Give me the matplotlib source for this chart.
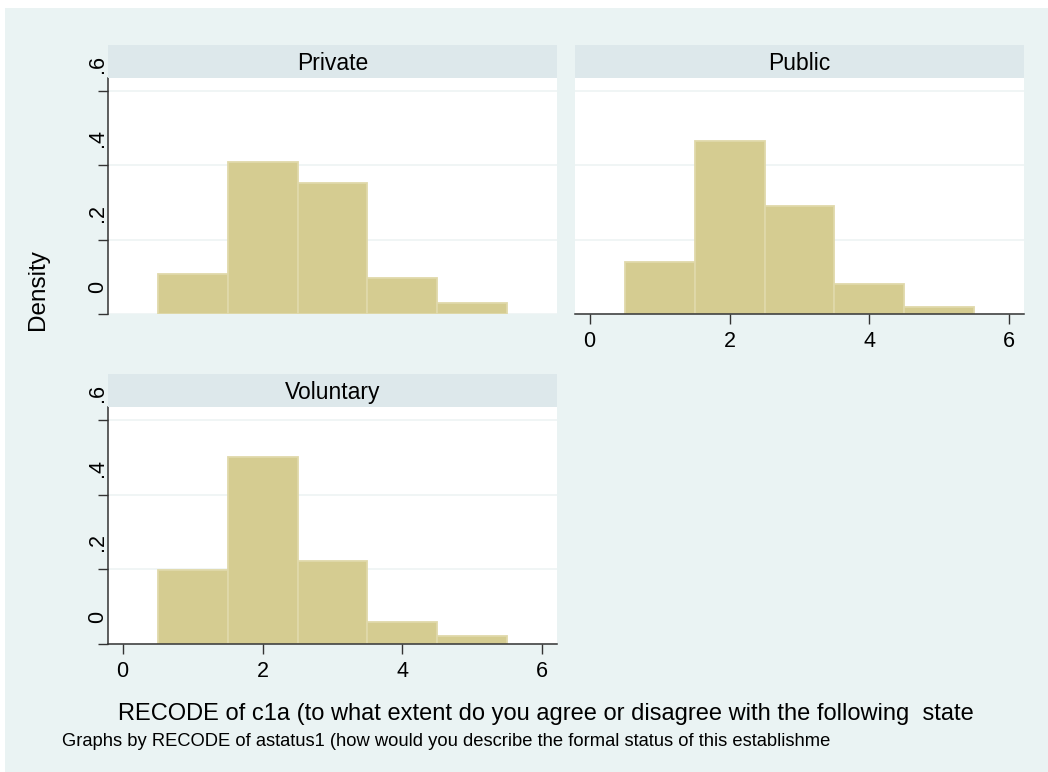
import matplotlib
matplotlib.use("Agg")
import matplotlib.pyplot as plt
from matplotlib.patches import Rectangle
from matplotlib.transforms import ScaledTranslation

plt.rcParams['font.family'] = ['Liberation Sans', 'DejaVu Sans']

# histogram (density) per establishment status, bins of width 1 centred on 1..5
bins = [1, 2, 3, 4, 5]
private = [0.107, 0.408, 0.352, 0.096, 0.029]
public = [0.139, 0.465, 0.290, 0.080, 0.019]
voluntary = [0.198, 0.502, 0.222, 0.058, 0.021]
panel_names = ['Private', 'Public', 'Voluntary']
yticks = [0, 0.2, 0.4, 0.6]
ylabels = ['0', '.2', '.4', '.6']
xticks = [0, 2, 4, 6]

xlabel = "RECODE of c1a (to what extent do you agree or disagree with the following  state"
note = "Graphs by RECODE of astatus1 (how would you describe the formal status of this establishme"

W, H = 1048, 772
bg = '#eaf3f3'
strip_col = '#dde8eb'
bar_col = '#d5cc91'
bar_edge = '#e0d9aa'
axis_col = '#333333'

fig = plt.figure(figsize=(W / 100, H / 100), dpi=100)
fig.patch.set_facecolor('white')
fig.patches.append(Rectangle((5 / W, 0), 1 - 5 / W, 1 - 8 / H, transform=fig.transFigure,
                             facecolor=bg, edgecolor='none', zorder=-10))


def px_axes(x0, ytop, x1, ybot, **kw):
    return fig.add_axes([x0 / W, 1 - ybot / H, (x1 - x0) / W, (ybot - ytop) / H], **kw)


# (left, top, right, bottom) of plot region in pixels, plus which axes to show
layout = [
    (108, 78, 557, 314, True, False),
    (575, 78, 1024, 314, False, True),
    (108, 407, 557, 644, True, True),
]
values = [private, public, voluntary]

for name, vals, (x0, yt, x1, yb, show_y, show_x) in zip(panel_names, values, layout):
    ax = px_axes(x0, yt, x1, yb)
    ax.set_facecolor('white')
    ax.bar(bins, vals, width=1.0, color=bar_col, edgecolor=bar_edge, linewidth=1.3, zorder=2)
    ax.set_xlim(-0.21, 6.21)
    ax.set_ylim(0, 0.635)
    ax.set_yticks(yticks)
    ax.set_xticks(xticks)
    ax.yaxis.grid(True, color='#eef4f4', linewidth=1.2)
    ax.set_axisbelow(True)
    for s in ['top', 'right']:
        ax.spines[s].set_visible(False)
    ax.spines['left'].set_visible(show_y)
    ax.spines['bottom'].set_visible(show_x)
    ax.spines['left'].set_color(axis_col)
    ax.spines['bottom'].set_color(axis_col)
    ax.spines['left'].set_linewidth(1.1)
    ax.spines['bottom'].set_linewidth(1.1)

    if show_y:
        ax.set_yticklabels(ylabels, rotation=90, va='center', ha='right', fontsize=15.5)
        ax.tick_params(axis='y', length=7.2, width=1.0, color=axis_col, pad=1)
        shift = ScaledTranslation(0.115, 0.27, fig.dpi_scale_trans)
        for lab in ax.get_yticklabels():
            lab.set_transform(lab.get_transform() + shift)
    else:
        ax.tick_params(axis='y', left=False, labelleft=False)

    if show_x:
        ax.set_xticklabels([str(t) for t in xticks], fontsize=15.5)
        ax.tick_params(axis='x', length=7.2, width=1.0, color=axis_col, pad=5)
    else:
        ax.tick_params(axis='x', bottom=False, labelbottom=False)

    # title strip above the panel
    sax = px_axes(x0, yt - 33, x1, yt)
    sax.set_facecolor(strip_col)
    sax.set_xticks([])
    sax.set_yticks([])
    for s in sax.spines.values():
        s.set_visible(False)
    sax.text(0.5, 0.45, name, ha='center', va='center', fontsize=16.5, transform=sax.transAxes)

fig.text(38 / W, 1 - 290 / H, 'Density', rotation=90, ha='center', va='center', fontsize=17.5)
fig.text(546 / W, 1 - 714 / H, xlabel, ha='center', va='center', fontsize=17)
fig.text(62 / W, 1 - 741 / H, note, ha='left', va='center', fontsize=13.2)

fig.savefig('out.png', dpi=100, facecolor=fig.get_facecolor())
